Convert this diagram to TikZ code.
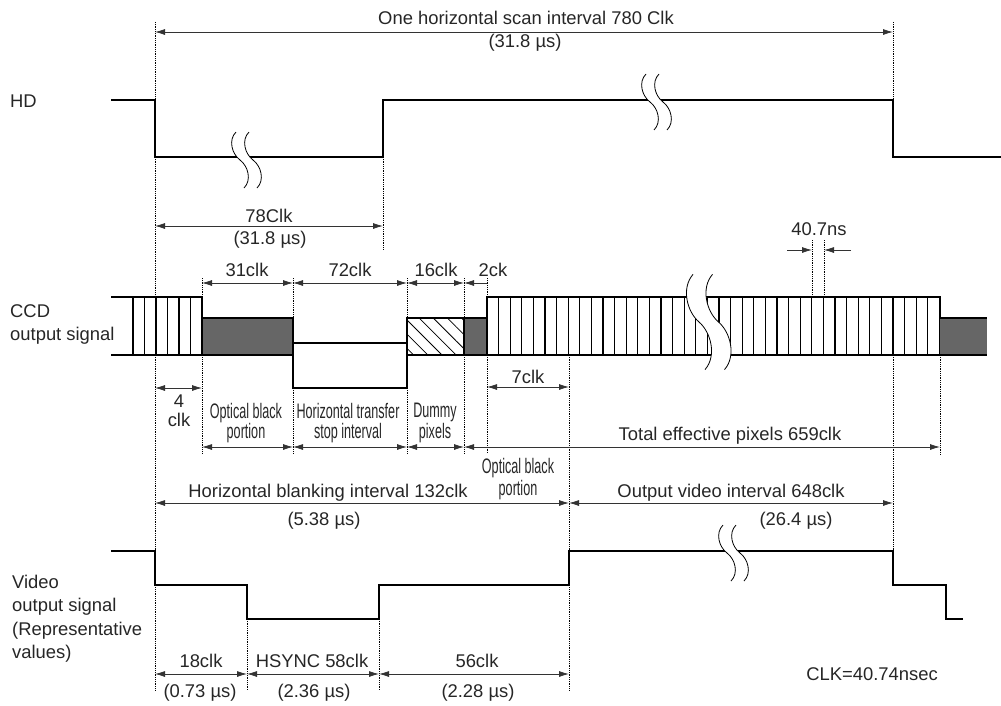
\documentclass[tikz,border=0pt]{standalone}
\usepackage{fontspec}
\setmainfont{Liberation Sans}
\newfontfamily\narrowfont[FakeStretch=0.6]{Liberation Sans}
\usetikzlibrary{arrows.meta}
\usetikzlibrary{patterns.meta}

\definecolor{darkfill}{gray}{0.4}
\tikzset{
  sig/.style={line width=2.2pt, line join=miter},
  guide/.style={densely dotted, line width=0.8pt},
  tick/.style={line width=1.1pt},
  dim/.style={{Latex[length=10pt,width=6pt]}-{Latex[length=10pt,width=6pt]}, line width=0.8pt, black!80},
  dimR/.style={-{Latex[length=10pt,width=6pt]}, line width=0.8pt, black!80},
  lbl/.style={anchor=base, inner sep=0pt, text=black!85, font=\fontsize{18.4}{22}\selectfont},
  nlbl/.style={anchor=base, inner sep=0pt, text=black!85, font=\narrowfont\fontsize{21}{22}\selectfont},
}

% two S strokes cutting a waveform: x, y, xscale, yscale
\newcommand{\wavebreak}[4]{%
  \begin{scope}[shift={(#1,#2)}, xscale=#3, yscale=#4]
    \fill[white] (-4,-28) .. controls (-12,-20) and (-8,-6) .. (0,0)
      .. controls (8,6) and (12,20) .. (4,28) -- (17,28)
      .. controls (25,20) and (21,6) .. (13,0)
      .. controls (5,-6) and (1,-20) .. (9,-28) -- cycle;
    \draw[line width=0.8pt] (-4,-28) .. controls (-12,-20) and (-8,-6) .. (0,0)
      .. controls (8,6) and (12,20) .. (4,28);
    \draw[line width=0.8pt] (9,-28) .. controls (1,-20) and (5,-6) .. (13,0)
      .. controls (21,6) and (25,20) .. (17,28);
  \end{scope}}

\begin{document}
\begin{tikzpicture}[x=1pt, y=-1pt]
  \useasboundingbox (0,0) rectangle (1001,705);

  % GUIDES
  \draw[guide] (155,22) -- (155,690);
  \draw[guide] (893,22) -- (893,100);
  \draw[guide] (893,355) -- (893,551);
  \draw[guide] (383,157) -- (383,250);
  \draw[guide] (202,278) -- (202,453);
  \draw[guide] (293,278) -- (293,318) (293,388) -- (293,453);
  \draw[guide] (407,278) -- (407,318) (407,388) -- (407,453);
  \draw[guide] (464,278) -- (464,453);
  \draw[guide] (487,278) -- (487,297) (487,355) -- (487,453);
  \draw[guide] (569,355) -- (569,690);
  \draw[guide] (940,355) -- (940,455);
  \draw[guide] (812,240) -- (812,297) (824,240) -- (824,297);
  \draw[guide] (247,619) -- (247,690) (379,619) -- (379,690);

  % SCAN INTERVAL
  \draw[dim] (155,32) -- (893,32);
  \node[lbl] (scan) at (526,24) {One horizontal scan interval 780 Clk};
  \node[lbl] (scanus) at (525,47) {(31.8 µs)};

  % HD
  \node[lbl, anchor=base west] (hd) at (10,107) {HD};
  \draw[sig] (111,100) -- (155,100) -- (155,157) -- (383,157) -- (383,100)
    -- (893,100) -- (893,157) -- (1001,157);
  \wavebreak{240}{160}{1}{1}
  \wavebreak{650}{102}{1}{1}
  \draw[dim] (155,226) -- (383,226);
  \node[lbl] (hdlow) at (269,222) {78Clk};
  \node[lbl] (hdlowus) at (270,244) {(31.8 µs)};

  % CCD OUTPUT
  \node[lbl, anchor=base west] (ccd) at (10,317) {CCD};
  \node[lbl, anchor=base west] (ccdb) at (10,340) {output signal};
  \draw[sig] (111,297) -- (202,297) -- (202,355);
  \draw[sig] (111,355) -- (293,355);
  \foreach \x in {133,144.5,156,167.5,179,190.5}
    \draw[tick] (\x,297) -- (\x,355);
  \filldraw[sig, fill=darkfill] (202,318) rectangle (293,355); % Optical black
  \filldraw[sig, fill=white] (293,343) rectangle (407,388); % Transfer stop
  \draw[sig, pattern={Lines[angle=-45, distance=10pt, line width=0.8pt]}]
    (407,318) rectangle (464,355); % Dummy
  \filldraw[sig, fill=darkfill] (464,318) rectangle (487,355);
  \filldraw[sig, fill=white] (487,297) rectangle (940,355); % Effective
  \foreach \k in {1,...,38}
    \draw[tick] ({487+\k*11.6},297) -- ++(0,58);
  \fill[darkfill] (940,318) rectangle (987,355);
  \draw[sig] (940,318) -- (987,318) (940,355) -- (987,355);
  \wavebreak{699}{322}{1.5}{1.7}

  % CCD DIMENSIONS
  \draw[dim] (202,283) -- (293,283);
  \draw[dim] (293,283) -- (407,283);
  \draw[dim] (407,283) -- (464,283);
  \draw[dimR] (487,283) -- (464,283);
  \node[lbl] (ob) at (247,276) {31clk};
  \node[lbl] (stop) at (350,276) {72clk};
  \node[lbl] (dummy) at (436,276) {16clk};
  \node[lbl] (two) at (493,276) {2ck};
  \draw[dimR] (787,250) -- (812,250);
  \draw[dimR] (851,250) -- (824,250);
  \node[lbl] (pitch) at (819,235) {40.7ns};
  \draw[dim] (155,388) -- (202,388);
  \node[lbl] (four) at (179,407) {4};
  \node[lbl] (fourb) at (179,426) {clk};
  \draw[dim] (487,387) -- (569,387);
  \node[lbl] (seven) at (528,383) {7clk};
  \node[nlbl] (oba) at (246,418) {Optical black};
  \node[nlbl] (obb) at (246,438) {portion};
  \node[nlbl] (hta) at (348,418) {Horizontal transfer};
  \node[nlbl] (htb) at (348,438) {stop interval};
  \node[nlbl] (dpa) at (435,417) {Dummy};
  \node[nlbl] (dpb) at (435,438) {pixels};
  \draw[dim] (202,447) -- (293,447);
  \draw[dim] (293,447) -- (407,447);
  \draw[dim] (407,447) -- (464,447);
  \draw[dim] (464,447) -- (940,447);
  \node[lbl] (total) at (730,440) {Total effective pixels 659clk};
  \node[nlbl] (ob2a) at (518,473) {Optical black};
  \node[nlbl] (ob2b) at (518,495) {portion};

  % BLANKING / VIDEO INTERVALS
  \draw[dim] (155,503) -- (569,503);
  \draw[dim] (569,503) -- (893,503);
  \node[lbl] (blank) at (328,497) {Horizontal blanking interval 132clk};
  \node[lbl] (blankus) at (324,525) {(5.38 µs)};
  \node[lbl] (video) at (731,497) {Output video interval 648clk};
  \node[lbl] (videous) at (796,525) {(26.4 µs)};

  % VIDEO OUTPUT
  \node[lbl, anchor=base west] (vo) at (12,588) {Video};
  \node[lbl, anchor=base west] (vob) at (12,611) {output signal};
  \node[lbl, anchor=base west] (voc) at (12,635) {(Representative};
  \node[lbl, anchor=base west] (vod) at (12,658) {values)};
  \draw[sig] (111,551) -- (155,551) -- (155,585) -- (247,585) -- (247,619)
    -- (379,619) -- (379,585) -- (569,585) -- (569,551) -- (893,551)
    -- (893,585) -- (946,585) -- (946,619) -- (963,619);
  \wavebreak{727}{553}{1}{1}
  \draw[dim] (155,674) -- (247,674);
  \draw[dim] (247,674) -- (379,674);
  \draw[dim] (379,674) -- (569,674);
  \node[lbl] (front) at (201,667) {18clk};
  \node[lbl] (frontus) at (200,697) {(0.73 µs)};
  \node[lbl] (hsync) at (312,667) {HSYNC 58clk};
  \node[lbl] (hsyncus) at (314,697) {(2.36 µs)};
  \node[lbl] (back) at (477,667) {56clk};
  \node[lbl] (backus) at (478,697) {(2.28 µs)};
  \node[lbl] (clk) at (872,680) {CLK=40.74nsec};
\end{tikzpicture}
\end{document}
